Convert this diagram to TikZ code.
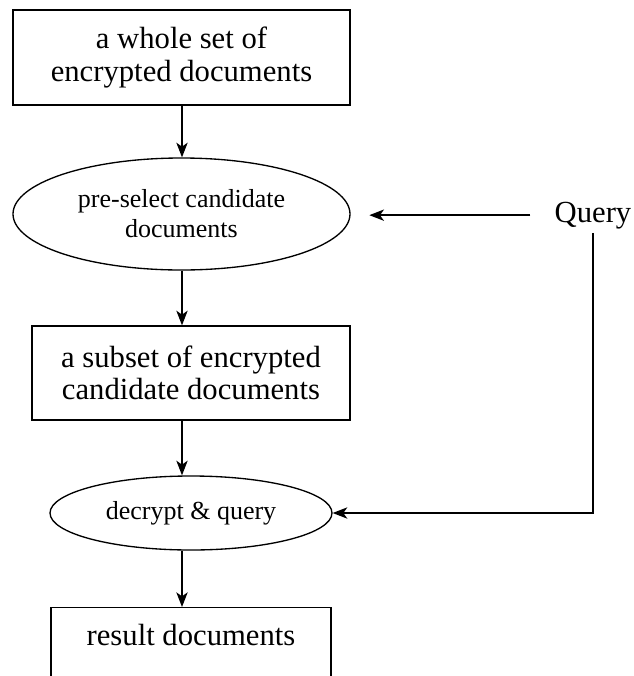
\documentclass[tikz,border=0pt]{standalone}
\usepackage{fontspec}
\setmainfont{Liberation Serif}
\usetikzlibrary{shapes.geometric,arrows.meta}

\tikzset{
  docbox/.style={draw, line width=1pt, align=center, inner sep=0pt,
    font=\fontsize{23}{24.5}\selectfont},
  stepoval/.style={draw, ellipse, line width=1pt, align=center, inner sep=0pt,
    font=\fontsize{19.5}{22.5}\selectfont},
  flow/.style={-{Stealth[length=11pt,width=8.5pt,inset=3pt]}, line width=1pt}
}

\begin{document}
\begin{tikzpicture}[x=0.75pt,y=-0.75pt]
    \clip (0,0) rectangle (634,676);

    % main column
    \node[docbox, minimum width=252.75pt, minimum height=71.25pt] (whole) at (181.5,57.5)
        {a whole set of\\encrypted documents};
    \node[stepoval, minimum width=252.75pt, minimum height=84pt] (pre) at (181.5,214)
        {pre-select candidate\\documents};
    \node[docbox, minimum width=238.5pt, minimum height=70.5pt] (sub) at (191,373)
        {a subset of encrypted\\candidate documents};
    \node[stepoval, minimum width=211.5pt, minimum height=55.5pt] (dec) at (191,513)
        {decrypt \& query};
    \node[docbox, anchor=north, minimum width=210pt, inner ysep=8.5pt,
        text height=20pt, text depth=50pt] (res) at (191,607) {result documents};

    % query on the right
    \node[font=\fontsize{23}{24.5}\selectfont, anchor=base, inner sep=3pt] (query) at (593,222) {Query};

    \coordinate (axis) at (182,0);

    \draw[flow] (whole.south -| axis) -- (pre.north -| axis);
    \draw[flow] (pre.south -| axis) -- (sub.north -| axis);
    \draw[flow] (sub.south -| axis) -- (dec.north -| axis);
    \draw[flow] (dec.south -| axis) -- (res.north -| axis);

    \draw[flow, shorten <=15pt, shorten >=14pt] (query.west) -- (query.west -| pre.east);
    \draw[flow] (query.south) |- (dec.east);
\end{tikzpicture}
\end{document}
